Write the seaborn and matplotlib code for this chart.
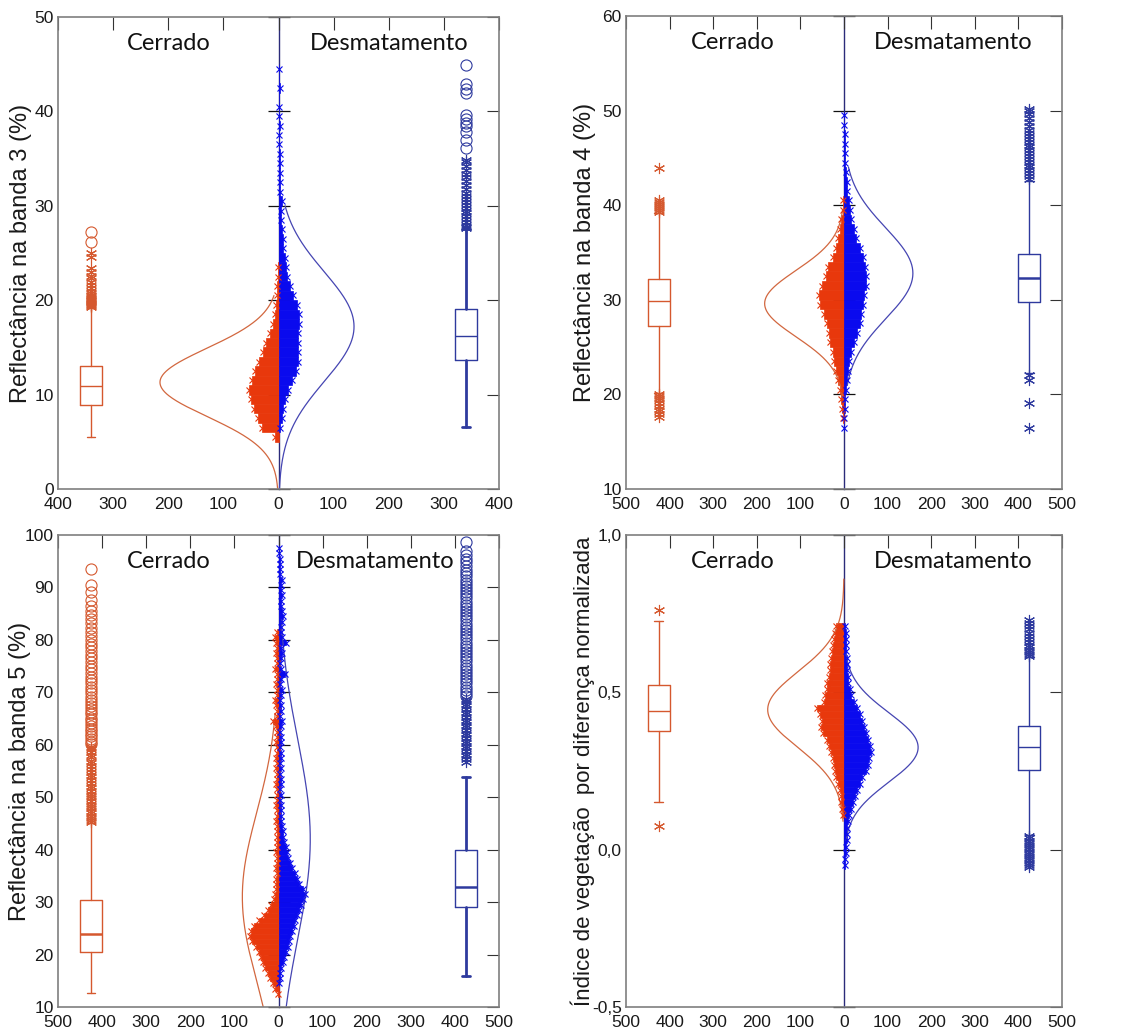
import numpy as np
import pandas as pd
import matplotlib
matplotlib.use("Agg")
import matplotlib.pyplot as plt
import seaborn as sns
from matplotlib.ticker import FuncFormatter

sns.set_theme(style="white")
plt.rcParams["font.family"] = ["Liberation Sans", "DejaVu Sans"]

# ---------------- data ----------------
group_labels = ["Cerrado", "Desmatamento"]
y_labels = ["Reflectância na banda 3 (%)", "Reflectância na banda 4 (%)",
            "Reflectância na banda 5 (%)", "Índice de vegetação  por diferença normalizada"]

# histogram counts (bin start, bin width, counts)
b3_bin_w = 1.0
b3_cer_start = 5.0
b3_cer = [6, 30, 38, 45, 50, 54, 48, 42, 35, 29, 22, 15, 10, 7, 4, 2, 2, 1, 1]
b3_des_start = 6.0
b3_des = [3, 6, 9, 12, 18, 25, 31, 35, 36, 36, 36, 38, 38, 33, 27, 21, 16, 14, 12, 9,
          8, 7, 5, 4, 6, 3, 3, 3, 3, 2, 1, 1, 2, 1, 1, 0, 2, 0, 1]

b4_bin_w = 1.0
b4_cer_start = 17.0
b4_cer = [2, 5, 8, 10, 13, 18, 22, 26, 31, 35, 40, 47, 56, 58, 50, 42, 36, 26, 18, 13,
          9, 6, 3, 2]
b4_des_start = 16.0
b4_des = [1, 1, 2, 3, 4, 7, 9, 12, 17, 22, 30, 36, 40, 43, 46, 51, 51, 48, 44, 36,
          28, 22, 17, 14, 11, 8, 6, 4, 3, 3, 2, 2, 1, 1]

b5_bin_w = 1.0
b5_cer_start = 12.0
b5_cer = [1, 8, 13, 19, 24, 30, 35, 40, 45, 52, 60, 64, 62, 56, 45, 34, 24, 16, 11, 8,
          6, 5, 5, 4, 5, 4, 4, 5, 3, 4, 3, 4, 3, 5, 3, 4, 6, 3, 4, 3,
          5, 3, 4, 6, 3, 5, 4, 3, 6, 4, 3, 5, 12, 4, 3, 6, 9, 4, 3, 6,
          4, 3, 7, 3, 4, 6, 3, 5, 8, 3]
b5_des_start = 14.0
b5_des = [2, 3, 4, 6, 10, 12, 16, 21, 24, 26, 30, 35, 38, 43, 47, 52, 56, 60, 55, 47,
          42, 38, 31, 27, 22, 19, 16, 13, 11, 10, 7, 5, 6, 5, 6, 4, 5, 4, 5, 6,
          4, 5, 4, 6, 5, 4, 6, 5, 4, 5, 7, 4, 5, 6, 4, 5, 8, 4, 6, 14,
          5, 4, 6, 7, 5, 18, 8, 5, 6, 8, 10, 7, 5, 6, 8, 6, 5, 7, 4, 3,
          3, 3, 2, 1]

ndvi_bin_w = 0.02
ndvi_cer_start = 0.10
ndvi_cer = [3, 5, 6, 8, 10, 14, 18, 20, 22, 25, 30, 34, 40, 48, 52, 50, 56, 61, 46, 43,
            40, 38, 35, 33, 31, 29, 27, 25, 23, 21, 18]
ndvi_des_start = -0.06
ndvi_des = [2, 3, 4, 5, 6, 7, 8, 9, 12, 15, 20, 25, 30, 36, 42, 50, 55, 58, 62, 60,
            56, 50, 46, 42, 36, 30, 24, 17, 13, 10, 9, 8, 7, 6, 5, 5, 4, 4, 3]

# fitted normal curves: (mean, sd, peak count, y-from, y-to)
b3_cer_fit = (11.3, 3.6, 215, 0.0, 20.5)
b3_des_fit = (17.2, 5.8, 137, 0.0, 30.0)
b4_cer_fit = (29.6, 3.5, 182, 19.4, 39.5)
b4_des_fit = (32.8, 4.8, 158, 21.0, 44.0)
b5_cer_fit = (31.0, 16.0, 82, 10.0, 66.0)
b5_des_fit = (42.0, 19.0, 72, 10.0, 84.0)
ndvi_cer_fit = (0.445, 0.12, 175, 0.09, 0.86)
ndvi_des_fit = (0.325, 0.11, 170, 0.03, 0.62)

# box plot stats: (lower whisker, q1, median, q3, upper whisker)
b3_cer_box = (5.47, 8.93, 10.95, 13.07, 19.3)
b3_des_box = (6.53, 13.7, 16.24, 19.07, 27.5)
b4_cer_box = (20.2, 27.27, 29.87, 32.16, 39.2)
b4_des_box = (22.3, 29.8, 32.27, 34.84, 42.6)
b5_cer_box = (12.7, 20.5, 23.9, 30.36, 45.0)
b5_des_box = (15.85, 29.1, 32.8, 39.9, 53.8)
ndvi_cer_box = (0.15, 0.377, 0.44, 0.523, 0.727)
ndvi_des_box = (0.046, 0.253, 0.325, 0.394, 0.613)

# outliers: asterisks and circles
b3_cer_star = [19.3, 19.4, 19.5, 19.6, 19.7, 19.8, 19.9, 20.0, 20.1, 20.2, 20.4, 20.6,
               20.8, 21.0, 21.3, 21.6, 21.9, 22.3, 22.6, 23.0, 23.4, 24.6, 25.0]
b3_cer_circ = [26.2, 27.2]
b3_des_star = [27.6, 27.8, 28.0, 28.3, 28.6, 28.9, 29.2, 29.5, 29.8, 30.1, 30.4, 30.7,
               31.0, 31.4, 31.8, 32.2, 32.6, 33.0, 33.4, 33.8, 34.2, 34.6, 34.9]
b3_des_circ = [36.1, 37.0, 37.8, 38.5, 38.8, 39.2, 39.6, 41.9, 42.4, 42.9, 44.9]

b4_cer_star = [17.6, 17.9, 18.2, 18.5, 18.8, 19.1, 19.4, 19.6, 19.8, 20.0,
               39.3, 39.5, 39.7, 39.9, 40.1, 40.3, 40.6, 43.9]
b4_cer_circ = []
b4_des_star = [16.5, 19.05, 21.5, 22.05, 42.8, 43.1, 43.4, 43.7, 44.0, 44.3, 44.6, 44.9,
               45.2, 45.5, 45.8, 46.1, 46.4, 46.7, 47.0, 47.3, 47.6, 48.0, 48.4, 48.8,
               49.2, 49.6, 50.0, 50.2]
b4_des_circ = []

b5_cer_star = [45.2, 45.6, 46.0, 46.5, 47.0, 47.4, 47.9, 48.3, 48.8, 49.3, 49.8, 50.2,
               50.7, 51.2, 51.7, 52.2, 52.7, 53.3, 53.8, 54.3, 54.9, 55.4, 56.0, 56.5,
               57.0, 57.6, 58.1, 58.6, 59.1, 59.6]
b5_cer_circ = [60.1, 60.6, 61.1, 61.6, 62.1, 62.6, 63.1, 63.6, 64.2, 64.7, 65.2, 65.8,
               66.3, 66.9, 67.4, 68.0, 68.6, 69.2, 69.8, 70.4, 71.0, 71.7, 72.3, 73.0,
               73.7, 74.4, 75.1, 75.8, 76.5, 77.2, 77.9, 78.6, 79.3, 80.0, 80.8, 81.5,
               82.3, 83.2, 84.0, 84.8, 85.6, 86.5, 87.7, 89.2, 90.5, 93.5]
b5_des_star = [56.8, 57.3, 57.8, 58.3, 58.8, 59.3, 59.8, 60.3, 60.8, 61.3, 61.8, 62.3,
               62.8, 63.3, 63.8, 64.3, 64.8, 65.3, 65.8, 66.3, 66.8, 67.3, 67.8, 68.3, 68.8]
b5_des_circ = [69.3, 69.9, 70.5, 71.1, 71.7, 72.3, 72.9, 73.5, 74.1, 74.7, 75.3, 75.9,
               76.5, 77.1, 77.7, 78.3, 78.9, 79.5, 80.1, 80.7, 81.3, 81.9, 82.5, 83.1,
               83.7, 84.3, 84.9, 85.5, 86.1, 86.7, 87.3, 87.9, 88.5, 89.1, 89.7, 90.3,
               90.9, 91.5, 92.1, 92.7, 93.3, 94.0, 94.8, 95.5, 96.2, 97.0, 98.6]

ndvi_cer_star = [0.076, 0.762]
ndvi_cer_circ = []
ndvi_des_star = [-0.055, -0.048, -0.041, -0.034, -0.027, -0.020, -0.013, -0.006, 0.001,
                 0.008, 0.015, 0.022, 0.029, 0.036, 0.043,
                 0.615, 0.622, 0.629, 0.636, 0.643, 0.650, 0.660, 0.670, 0.680, 0.690,
                 0.700, 0.710, 0.720, 0.730]
ndvi_des_circ = []

# ---------------- style ----------------
CER_HIST = "#E8380C"
DES_HIST = "#0A0AEE"
CER_BOX = "#D5582E"
DES_BOX = "#2E3A9E"
CER_CURVE = "#D2673F"
DES_CURVE = "#4545B2"
CENTER = "#2B2B7A"
FRAME = "#7F7F7F"

W, H = 1124, 1031
fig = plt.figure(figsize=(W / 100, H / 100), dpi=100)


def px_axes(x0, y0, x1, y1):
    return fig.add_axes([x0 / W, 1 - y1 / H, (x1 - x0) / W, (y1 - y0) / H])


def draw_hist(ax, start, width, counts, side, color):
    counts = np.asarray(counts, float)
    n = len(counts)
    centers = start + width * (np.arange(n) + 0.5)
    df = pd.DataFrame({"y": centers, "w": side * counts})
    sns.histplot(data=df, y="y", weights="w", binwidth=width,
                 binrange=(start, start + n * width), ax=ax, color=color,
                 element="bars", fill=True, alpha=1, linewidth=0.5, edgecolor=color,
                 shrink=1)
    # small 'x' marks at the bar ends, as in the original rendering
    nz = counts > 0
    ax.plot(side * counts[nz], centers[nz], ls="none", marker="x", ms=4.5, mew=0.8,
            color=color, zorder=2.5)


def draw_fit(ax, fit, side, color):
    mu, sd, peak, lo, hi = fit
    yy = np.linspace(lo, hi, 300)
    xx = side * peak * np.exp(-0.5 * ((yy - mu) / sd) ** 2)
    df = pd.DataFrame({"x": xx, "y": yy})
    sns.lineplot(data=df, x="x", y="y", ax=ax, color=color, linewidth=0.9, sort=False,
                 estimator=None)


def draw_box(ax, pos, width, stats, color, whis_lw=1.0, med_lw=1.0, capfrac=0.4):
    lo, q1, med, q3, hi = stats
    st = dict(whislo=lo, q1=q1, med=med, q3=q3, whishi=hi, fliers=[])
    ax.bxp([st], positions=[pos], widths=width, showfliers=False,
           capwidths=width * capfrac, manage_ticks=False,
           boxprops=dict(color=color, lw=1.0),
           whiskerprops=dict(color=color, lw=whis_lw, ls="-"),
           capprops=dict(color=color, lw=whis_lw),
           medianprops=dict(color=color, lw=med_lw))


def draw_outliers(ax, pos, stars, circles, color):
    if len(stars):
        ax.plot(np.full(len(stars), pos), stars, ls="none", marker=(6, 2, 0),
                ms=8, mew=0.8, color=color, zorder=4)
    if len(circles):
        ax.plot(np.full(len(circles), pos), circles, ls="none", marker="o",
                ms=8, mew=0.8, mfc="none", mec=color, zorder=4)


panels = [
    dict(rect=(58, 17, 499, 489), xlim=400, ylim=(0, 50), yticks=[0, 10, 20, 30, 40, 50],
         yfmt="int", label=y_labels[0], lab_x=-0.06, lab_fs=17,
         cer=(b3_cer_start, b3_bin_w, b3_cer), des=(b3_des_start, b3_bin_w, b3_des),
         cer_fit=b3_cer_fit, des_fit=b3_des_fit,
         box_pos=340, box_w=40, cer_box=b3_cer_box, des_box=b3_des_box,
         cer_out=(b3_cer_star, b3_cer_circ), des_out=(b3_des_star, b3_des_circ),
         des_whis_lw=2.0, des_med_lw=1.0, cer_med_lw=1.0, title_x=(0.25, 0.75)),
    dict(rect=(626, 16, 1062, 489), xlim=500, ylim=(10, 60), yticks=[10, 20, 30, 40, 50, 60],
         yfmt="int", label=y_labels[1], lab_x=-0.068, lab_fs=17,
         cer=(b4_cer_start, b4_bin_w, b4_cer), des=(b4_des_start, b4_bin_w, b4_des),
         cer_fit=b4_cer_fit, des_fit=b4_des_fit,
         box_pos=425, box_w=50, cer_box=b4_cer_box, des_box=b4_des_box,
         cer_out=(b4_cer_star, b4_cer_circ), des_out=(b4_des_star, b4_des_circ),
         des_whis_lw=1.0, des_med_lw=1.8, cer_med_lw=1.0, title_x=(0.245, 0.75)),
    dict(rect=(58, 535, 499, 1007), xlim=500, ylim=(10, 100),
         yticks=[10, 20, 30, 40, 50, 60, 70, 80, 90, 100],
         yfmt="int", label=y_labels[2], lab_x=-0.062, lab_fs=17,
         cer=(b5_cer_start, b5_bin_w, b5_cer), des=(b5_des_start, b5_bin_w, b5_des),
         cer_fit=b5_cer_fit, des_fit=b5_des_fit,
         box_pos=425, box_w=50, cer_box=b5_cer_box, des_box=b5_des_box,
         cer_out=(b5_cer_star, b5_cer_circ), des_out=(b5_des_star, b5_des_circ),
         des_whis_lw=2.0, des_med_lw=1.8, cer_med_lw=1.8, title_x=(0.25, 0.72)),
    dict(rect=(626, 535, 1062, 1007), xlim=500, ylim=(-0.5, 1.0), yticks=[-0.5, 0.0, 0.5, 1.0],
         yfmt="comma", label=y_labels[3], lab_x=-0.072, lab_fs=16,
         cer=(ndvi_cer_start, ndvi_bin_w, ndvi_cer), des=(ndvi_des_start, ndvi_bin_w, ndvi_des),
         cer_fit=ndvi_cer_fit, des_fit=ndvi_des_fit,
         box_pos=425, box_w=50, cer_box=ndvi_cer_box, des_box=ndvi_des_box,
         cer_out=(ndvi_cer_star, ndvi_cer_circ), des_out=(ndvi_des_star, ndvi_des_circ),
         des_whis_lw=1.0, des_med_lw=1.0, cer_med_lw=1.0, title_x=(0.245, 0.75)),
]

for p in panels:
    ax = px_axes(*p["rect"])
    xl = p["xlim"]

    draw_hist(ax, *p["cer"], side=-1, color=CER_HIST)
    draw_hist(ax, *p["des"], side=1, color=DES_HIST)
    draw_fit(ax, p["cer_fit"], -1, CER_CURVE)
    draw_fit(ax, p["des_fit"], 1, DES_CURVE)

    draw_box(ax, -p["box_pos"], p["box_w"], p["cer_box"], CER_BOX,
             whis_lw=1.0, med_lw=p["cer_med_lw"])
    draw_box(ax, p["box_pos"], p["box_w"], p["des_box"], DES_BOX,
             whis_lw=p["des_whis_lw"], med_lw=p["des_med_lw"])
    draw_outliers(ax, -p["box_pos"], *p["cer_out"], color=CER_BOX)
    draw_outliers(ax, p["box_pos"], *p["des_out"], color=DES_BOX)

    ax.set_xlim(-xl, xl)
    ax.set_ylim(*p["ylim"])
    ax.set_xticks(np.arange(-xl, xl + 1, 100))
    ax.xaxis.set_major_formatter(FuncFormatter(lambda v, pos: f"{abs(v):.0f}"))
    ax.set_yticks(p["yticks"])
    if p["yfmt"] == "comma":
        ax.yaxis.set_major_formatter(FuncFormatter(lambda v, pos: f"{v:.1f}".replace(".", ",")))
    else:
        ax.yaxis.set_major_formatter(FuncFormatter(lambda v, pos: f"{v:.0f}"))
    ax.tick_params(direction="in", length=9, width=0.8, top=True, right=True,
                   labelsize=12.5, colors="#1a1a1a", color="#333333")
    ax.tick_params(axis="x", pad=6)
    ax.tick_params(axis="y", pad=3)
    for s in ax.spines.values():
        s.set_visible(True)
        s.set_color(FRAME)
        s.set_linewidth(1.2)
    ax.set_facecolor("white")
    ax.set_xlabel("")
    ax.set_ylabel(p["label"], fontsize=p["lab_fs"], color="#1a1a1a")
    ax.yaxis.set_label_coords(p["lab_x"], 0.5)

    sec = ax.secondary_yaxis(0.5)
    sec.set_yticks(p["yticks"])
    sec.tick_params(direction="inout", length=16, width=0.9, labelleft=False,
                    labelright=False, color="#111111")
    for s in sec.spines.values():
        s.set_color(CENTER)
        s.set_linewidth(1.0)

    tx1, tx2 = p["title_x"]
    ax.text(tx1, 0.943, group_labels[0], transform=ax.transAxes, ha="center",
            va="center", fontsize=17, family=["Lato", "DejaVu Sans"], color="#111111")
    ax.text(tx2, 0.943, group_labels[1], transform=ax.transAxes, ha="center",
            va="center", fontsize=17, family=["Lato", "DejaVu Sans"], color="#111111")

fig.savefig("out.png", dpi=100, facecolor="white")
